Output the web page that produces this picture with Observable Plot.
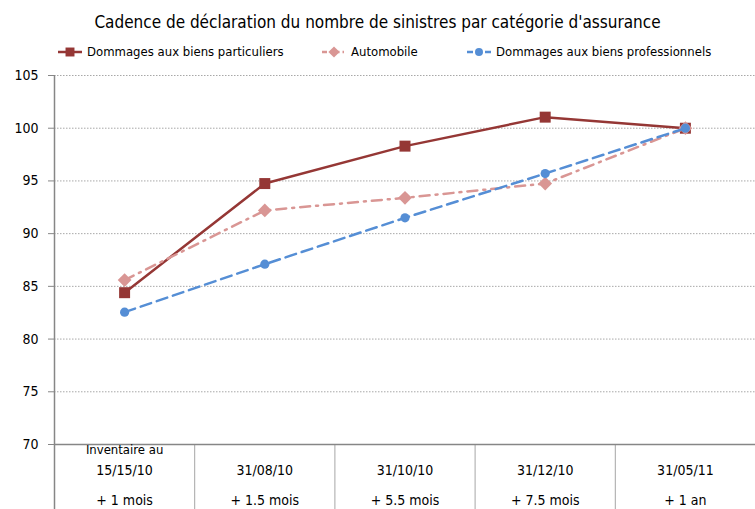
<!DOCTYPE html>
<html>
<head>
<meta charset="utf-8">
<script src="https://cdn.jsdelivr.net/npm/d3@7"></script>
<script src="https://cdn.jsdelivr.net/npm/@observablehq/plot@0.6"></script>
<style>
  html, body { margin: 0; padding: 0; background: #fff; }
  body { width: 755px; height: 509px; overflow: hidden; font-family: "Liberation Sans Narrow", "DejaVu Sans Condensed", "Liberation Sans", sans-serif; color: #000; }
  #title { height: 40px; line-height: 44px; text-align: center; font-size: 17px; }
  #legend { position: relative; height: 28px; font-size: 13px; }
  .item { position: absolute; top: 4px; display: flex; align-items: center; white-space: nowrap; }
  .item svg { margin-right: 5px; }
</style>
</head>
<body>
<div id="title"></div>
<div id="legend"></div>
<div id="chart"></div>
<script>
const title = "Cadence de déclaration du nombre de sinistres par catégorie d'assurance";
const categories = ["15/15/10", "31/08/10", "31/10/10", "31/12/10", "31/05/11"];
const prefixes = ["Inventaire au", "", "", "", ""];
const delays = ["+ 1 mois", "+ 1.5 mois", "+ 5.5 mois", "+ 7.5 mois", "+ 1 an"];
const seriesNames = ["Dommages aux biens particuliers", "Automobile", "Dommages aux biens professionnels"];
const particuliers = [84.4, 94.75, 98.3, 101.05, 100];
const automobile = [85.6, 92.2, 93.4, 94.75, 100];
const professionnels = [82.55, 87.1, 91.5, 95.7, 100];
const yTicks = [70, 75, 80, 85, 90, 95, 100, 105];

const colors = ["#953735", "#D99694", "#558ED5"];
const symbols = ["square", "diamond2", "circle"];
const dashes = [null, "10,6,2,6", "11,6"];
const radii = [6.2, 6.2, 4.6];

document.getElementById("title").textContent = title;

const seriesValues = [particuliers, automobile, professionnels];
const idx = categories.map((_, i) => i);

// legend
const legendX = [58, 322, 467];
const legend = document.getElementById("legend");
seriesNames.forEach((name, s) => {
  const div = document.createElement("div");
  div.className = "item";
  div.style.left = legendX[s] + "px";
  const svg = d3.create("svg").attr("width", 24).attr("height", 14);
  svg.append("line").attr("x1", 0).attr("x2", 24).attr("y1", 7).attr("y2", 7)
    .attr("stroke", colors[s]).attr("stroke-width", 2.5).attr("stroke-dasharray", s === 1 ? "5,3,1.5,3" : (s === 2 ? "6,3" : null));
  const sym = {square: d3.symbolSquare, diamond2: d3.symbolDiamond2, circle: d3.symbolCircle}[symbols[s]];
  svg.append("path").attr("transform", "translate(12,7)")
    .attr("d", d3.symbol(sym, s === 2 ? 50 : 80)()).attr("fill", colors[s]);
  div.appendChild(svg.node());
  const span = document.createElement("span");
  span.textContent = name;
  div.appendChild(span);
  legend.appendChild(div);
});

const seriesMarks = seriesValues.flatMap((vals, s) => [
  Plot.line(vals, {x: (d, i) => i, y: d => d, stroke: colors[s], strokeWidth: 2.5, strokeDasharray: dashes[s]}),
  Plot.dot(vals, {x: (d, i) => i, y: d => d, symbol: symbols[s], fill: colors[s], r: radii[s], stroke: "none"})
]);

const chart = Plot.plot({
  width: 755,
  height: 441,
  marginTop: 7,
  marginBottom: 65,
  marginLeft: 54,
  marginRight: 0,
  style: {fontFamily: '"Liberation Sans Narrow", "DejaVu Sans Condensed", "Liberation Sans", sans-serif', fontSize: "14px", color: "#000", background: "#fff"},
  x: {type: "linear", domain: [-0.5, categories.length - 0.5], axis: null},
  y: {domain: [70, 105], axis: null},
  marks: [
    Plot.ruleY(yTicks.filter(t => t > 70), {stroke: "#a8a8a8", strokeDasharray: "1.5,1.5", strokeWidth: 1}),
    Plot.ruleX(idx.map(i => i + 0.5), {y1: 70, y2: 70, insetBottom: -65, stroke: "#a6a6a6", strokeWidth: 1}),
    Plot.ruleY([70], {stroke: "#868686", strokeWidth: 1.5}),
    Plot.ruleX([-0.5], {insetBottom: -65, stroke: "#868686", strokeWidth: 1.5}),
    Plot.axisY({ticks: yTicks, tickSize: 6, tickPadding: 10, stroke: "#868686", fontSize: 14, fill: "#000", anchor: "left", label: null}),
    ...seriesMarks,
    Plot.text(idx, {x: d => d, y: 70, text: d => prefixes[d], dy: 5, fontSize: 13}),
    Plot.text(idx, {x: d => d, y: 70, text: d => categories[d], dy: 26, fontSize: 14}),
    Plot.text(idx, {x: d => d, y: 70, text: d => delays[d], dy: 56, fontSize: 14})
  ]
});
document.getElementById("chart").appendChild(chart);
</script>
</body>
</html>
